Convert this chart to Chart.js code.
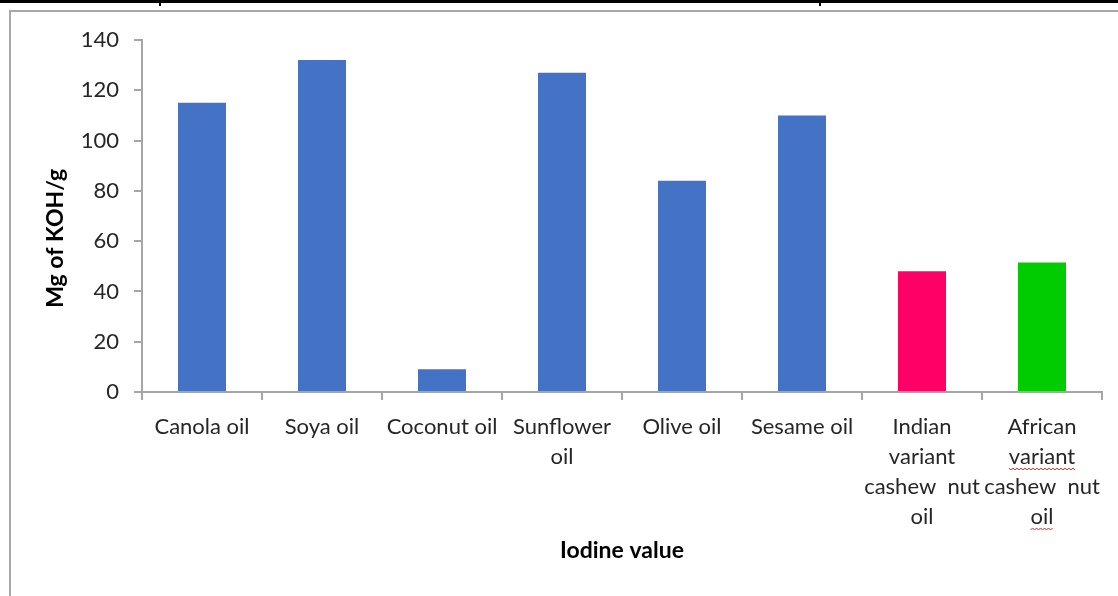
<!DOCTYPE html>
<html>
<head>
<meta charset="utf-8">
<script src="https://cdn.jsdelivr.net/npm/chart.js@4"></script>
<style>
    html, body { margin: 0; background: #fff; overflow: hidden; }
    #chart { position: absolute; left: 0; top: 0; }
</style>
</head>
<body>
<canvas id="chart" width="1118" height="596"></canvas>
<script>
var categories = [
    "Canola oil", "Soya oil", "Coconut oil", ["Sunflower", "oil"], "Olive oil", "Sesame oil",
    ["Indian", "variant", "cashew  nut", "oil"], ["African", "variant", "cashew  nut", "oil"]
];
var iodineValues = [115, 132, 9, 127, 84, 110, 48, 51.5];
var barColors = ["#4472C4", "#4472C4", "#4472C4", "#4472C4", "#4472C4", "#4472C4", "#FF0066", "#00CC00"];
var yTicks = [0, 20, 40, 60, 80, 100, 120, 140];

// table rule and chart frame from the source document
var pageFrame = {
    id: 'pageFrame',
    beforeDraw: function (chart) {
        var ctx = chart.ctx;
        ctx.save();
        ctx.fillStyle = '#000';
        ctx.fillRect(0, 0, chart.width, 3);
        ctx.fillRect(159, 0, 2, 6);
        ctx.fillRect(819, 0, 2, 6);
        ctx.fillStyle = '#a8a8a8';
        ctx.fillRect(9, 10, chart.width - 9, 2);
        ctx.fillRect(9, 10, 2, chart.height - 10);
        ctx.restore();
    }
};

// red spell-check squiggles under the last label
var squiggles = {
    id: 'squiggles',
    afterDraw: function (chart) {
        var ctx = chart.ctx, x = chart.scales.x;
        var cx = x.getPixelForTick(7);
        var top = x.top + 8 + 12;
        ctx.save();
        ctx.font = '22px Lato';
        ctx.strokeStyle = '#e02020';
        ctx.lineWidth = 1;
        [[1, 'variant'], [3, 'oil']].forEach(function (w) {
            var wd = ctx.measureText(w[1]).width;
            var y = top + w[0] * 30 + 26;
            ctx.beginPath();
            for (var px = cx - wd / 2; px <= cx + wd / 2; px += 2) {
                var py = y + ((Math.round(px) % 4) < 2 ? 0 : 2);
                if (px === cx - wd / 2) ctx.moveTo(px, py); else ctx.lineTo(px, py);
            }
            ctx.stroke();
        });
        ctx.restore();
    }
};

new Chart(document.getElementById("chart").getContext("2d"), {
    type: 'bar',
    data: {
        labels: categories,
        datasets: [{
            label: "Iodine value",
            data: iodineValues,
            backgroundColor: barColors,
            barPercentage: 0.4,
            categoryPercentage: 1
        }]
    },
    options: {
        responsive: false,
        animation: false,
        layout: { padding: { top: 40, right: 16, left: 0, bottom: 0 } },
        plugins: {
            legend: { display: false },
            tooltip: { enabled: false }
        },
        scales: {
            x: {
                afterFit: function (scale) { scale.height = 204; },
                border: { color: '#a6a6a6', width: 2 },
                grid: { display: true, drawOnChartArea: false, tickLength: 8, color: '#a6a6a6', lineWidth: 2 },
                ticks: {
                    color: '#262626',
                    font: { family: 'Lato', size: 22, lineHeight: 30 / 22 },
                    maxRotation: 0,
                    autoSkip: false,
                    padding: 12
                },
                title: {
                    display: true,
                    text: 'Iodine value',
                    color: '#000',
                    font: { family: 'Lato', size: 23, weight: 'bold' },
                    padding: { top: 0, bottom: 32 }
                }
            },
            y: {
                min: 0,
                max: 140,
                afterFit: function (scale) { scale.width = 142; },
                afterBuildTicks: function (scale) {
                    scale.ticks = yTicks.map(function (v) { return { value: v }; });
                },
                border: { color: '#a6a6a6', width: 2 },
                grid: { display: true, drawOnChartArea: false, tickLength: 8, color: '#a6a6a6', lineWidth: 2 },
                ticks: {
                    color: '#262626',
                    font: { family: 'Lato', size: 22 },
                    padding: 15
                },
                title: {
                    display: true,
                    text: 'Mg of KOH/g        ',
                    color: '#000',
                    font: { family: 'Lato', size: 23, weight: 'bold' },
                    padding: { top: 42, bottom: 0 }
                }
            }
        }
    },
    plugins: [pageFrame, squiggles]
});
</script>
</body>
</html>
